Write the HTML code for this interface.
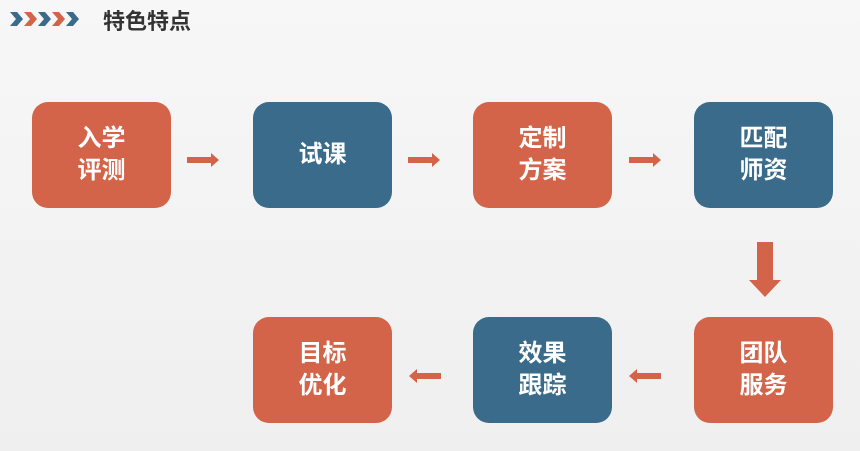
<!DOCTYPE html>
<html><head><meta charset="utf-8"><style>
body{margin:0;width:860px;height:451px;overflow:hidden;background:linear-gradient(#f7f7f7,#efefef);font-family:"Liberation Sans","Noto Sans CJK SC",sans-serif;position:relative}
.b{position:absolute;width:139px;height:106px;border-radius:16px;color:#fff;font-weight:bold;font-size:24px;line-height:32px;display:flex;align-items:center;justify-content:center;text-align:center}
.o{background:#D3644A}.u{background:#3A6B8A}
svg{position:absolute;left:0;top:0}
.t{position:absolute;left:103px;top:4px;font-size:22px;font-weight:bold;color:#333}
</style></head><body>
<svg width="860" height="451">
<g fill="#3A6B8A"><polygon points="10,12 17,12 23,19 17,26 10,26 16,19"/></g>
<g fill="#D3644A"><polygon points="24,12 31,12 37,19 31,26 24,26 30,19"/><polygon points="52,12 59,12 65,19 59,26 52,26 58,19"/></g>
<g fill="#3A6B8A"><polygon points="38,12 45,12 51,19 45,26 38,26 44,19"/><polygon points="66,12 73,12 79,19 73,26 66,26 72,19"/></g>
<g fill="#D3644A">
<polygon points="187,157 211,157 211,153 219,160 211,167 211,163 187,163"/>
<polygon points="408,157 432,157 432,153 440,160 432,167 432,163 408,163"/>
<polygon points="629,157 653,157 653,153 661,160 653,167 653,163 629,163"/>
<polygon points="757,242 773,242 773,280 781,280 765,297 749,280 757,280"/>
<polygon points="661,373 637,373 637,369 629,376 637,383 637,379 661,379"/>
<polygon points="441,373 417,373 417,369 409,376 417,383 417,379 441,379"/>
</g></svg>
<div class="t">特色特点</div>
<div class="b o" style="left:32px;top:102px">入学<br>评测</div>
<div class="b u" style="left:253px;top:102px">试课</div>
<div class="b o" style="left:473px;top:102px">定制<br>方案</div>
<div class="b u" style="left:694px;top:102px">匹配<br>师资</div>
<div class="b o" style="left:253px;top:317px">目标<br>优化</div>
<div class="b u" style="left:473px;top:317px">效果<br>跟踪</div>
<div class="b o" style="left:694px;top:317px">团队<br>服务</div>
</body></html>
